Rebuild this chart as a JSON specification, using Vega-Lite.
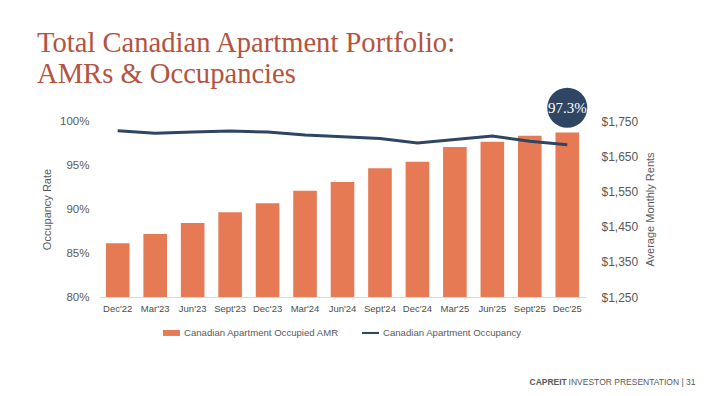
{
  "$schema": "https://vega.github.io/schema/vega-lite/v6.json",
  "width": 487,
  "height": 176,
  "autosize": {"type": "none"},
  "padding": {"left": 99, "top": 121, "right": 124, "bottom": 99},
  "background": "white",
  "title": {
    "text": ["Total Canadian Apartment Portfolio:", "AMRs & Occupancies"],
    "anchor": "start",
    "frame": "group",
    "dx": -62,
    "dy": 5,
    "font": "Liberation Serif",
    "fontSize": 28.6,
    "fontWeight": "normal",
    "color": "#B4533E",
    "lineHeight": 31,
    "offset": 4
  },
  "config": {
    "view": {"stroke": null},
    "font": "Liberation Sans"
  },
  "data": {
    "values": [
      {"period": "Dec'22", "amr": 1403, "occ": 98.9},
      {"period": "Mar'23", "amr": 1429, "occ": 98.6},
      {"period": "Jun'23", "amr": 1460, "occ": 98.75},
      {"period": "Sept'23", "amr": 1491, "occ": 98.85},
      {"period": "Dec'23", "amr": 1516, "occ": 98.75},
      {"period": "Mar'24", "amr": 1552, "occ": 98.4},
      {"period": "Jun'24", "amr": 1577, "occ": 98.2},
      {"period": "Sept'24", "amr": 1616, "occ": 98.0},
      {"period": "Dec'24", "amr": 1634, "occ": 97.5},
      {"period": "Mar'25", "amr": 1676, "occ": 97.9},
      {"period": "Jun'25", "amr": 1691, "occ": 98.3},
      {"period": "Sept'25", "amr": 1708, "occ": 97.7},
      {"period": "Dec'25", "amr": 1717, "occ": 97.3}
    ]
  },
  "encoding": {
    "x": {
      "field": "period",
      "type": "ordinal",
      "sort": null,
      "scale": {"paddingInner": 0.37, "paddingOuter": 0.185}
    }
  },
  "layer": [
    {
      "mark": {"type": "bar"},
      "encoding": {
        "x": {
          "field": "period",
          "type": "ordinal",
          "sort": null,
          "axis": {
            "orient": "bottom",
            "labelAngle": 0,
            "labelFontSize": 9.5,
            "labelColor": "#4D4D4D",
            "labelPadding": 6,
            "ticks": false,
            "domainColor": "#D9D9D9",
            "domainWidth": 1,
            "title": "CAPREIT",
            "titleFontSize": 8.5,
            "titleFontWeight": "bold",
            "titleColor": "#595959",
            "titleX": 430,
            "titleY": 87,
            "titleAlign": "left",
            "titleAnchor": null,
            "titleBaseline": "alphabetic"
          }
        },
        "y": {
          "field": "amr",
          "type": "quantitative",
          "scale": {"domain": [1250, 1750], "zero": false},
          "axis": {
            "orient": "right",
            "values": [1250, 1350, 1450, 1550, 1650, 1750],
            "format": "$,.0f",
            "grid": false,
            "domain": false,
            "ticks": false,
            "labelFontSize": 12,
            "labelColor": "#595959",
            "labelPadding": 15,
            "title": "Average Monthly Rents",
            "titleFontSize": 11,
            "titleFontWeight": "normal",
            "titleColor": "#595959",
            "titleAngle": 270,
            "titlePadding": 18
          }
        },
        "y2": {"datum": 1250},
        "color": {
          "datum": "Canadian Apartment Occupied AMR",
          "scale": {
            "domain": ["Canadian Apartment Occupied AMR", "Canadian Apartment Occupancy"],
            "range": ["#E57A55", "#2E4563"]
          },
          "legend": {
            "orient": "none",
            "legendX": 64,
            "legendY": 203,
            "direction": "horizontal",
            "title": null,
            "symbolType": "M-1,-0.35H1V0.35H-1Z",
            "symbolSize": 289,
            "symbolStrokeWidth": 0,
            "labelFontSize": 9.6,
            "labelColor": "#595959",
            "labelOffset": 4,
            "columnPadding": 22,
            "labelLimit": 400,
            "encode": {
              "symbols": {
                "update": {
                  "shape": {"signal": "datum.value === 'Canadian Apartment Occupancy' ? 'M-1,-0.12H1V0.12H-1Z' : 'M-1,-0.35H1V0.35H-1Z'"},
                  "fill": {"scale": "color", "field": "value"},
                  "opacity": {"value": 1}
                }
              }
            }
          }
        }
      }
    },
    {
      "layer": [
        {
          "mark": {"type": "line", "strokeWidth": 3},
          "encoding": {
            "y": {
              "field": "occ",
              "type": "quantitative",
              "scale": {"domain": [80, 100], "zero": false},
              "axis": {
                "orient": "left",
                "values": [80, 85, 90, 95, 100],
                "labelExpr": "datum.value + '%'",
                "grid": false,
                "domain": false,
                "ticks": false,
                "labelFontSize": 11.5,
                "labelColor": "#595959",
                "labelPadding": 10,
                "title": "Occupancy Rate",
                "titleFontSize": 11,
                "titleFontWeight": "normal",
                "titleColor": "#595959",
                "titlePadding": 7
              }
            },
            "color": {"datum": "Canadian Apartment Occupancy"}
          }
        },
        {
          "transform": [{"filter": "datum.period === \"Dec'25\""}],
          "mark": {"type": "point", "filled": true, "opacity": 1, "size": 1600, "yOffset": -37, "color": "#2E4563"},
          "encoding": {"y": {"field": "occ", "type": "quantitative"}}
        },
        {
          "transform": [{"filter": "datum.period === \"Dec'25\""}],
          "mark": {"type": "text", "yOffset": -37, "color": "white", "font": "Liberation Serif", "fontSize": 15, "baseline": "middle"},
          "encoding": {
            "y": {"field": "occ", "type": "quantitative"},
            "text": {"value": "97.3%"}
          }
        }
      ],
      "encoding": {
        "x": {
          "field": "period",
          "type": "ordinal",
          "sort": null,
          "axis": {
            "orient": "bottom",
            "labels": false,
            "domain": false,
            "ticks": false,
            "title": "INVESTOR PRESENTATION | 31",
            "titleFontSize": 8.5,
            "titleFontWeight": "normal",
            "titleColor": "#595959",
            "titleX": 596,
            "titleY": 87,
            "titleAlign": "right",
            "titleAnchor": null,
            "titleBaseline": "alphabetic"
          }
        }
      }
    }
  ],
  "resolve": {"scale": {"y": "independent"}, "axis": {"x": "independent"}}
}
